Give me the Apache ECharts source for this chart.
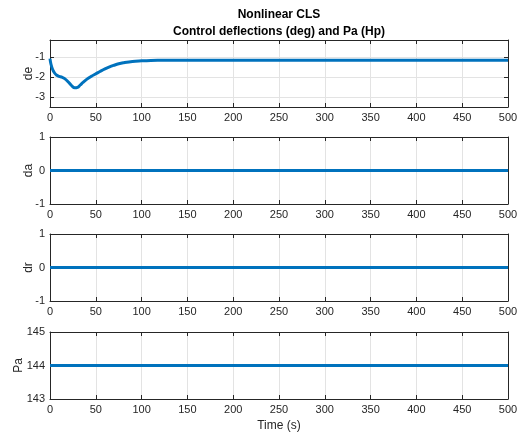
<!DOCTYPE html>
<html><head><meta charset="utf-8">
<script src="https://cdn.jsdelivr.net/npm/echarts@6/dist/echarts.min.js"></script>
<style>html,body{margin:0;padding:0;background:#fff}#c{width:523px;height:434px}</style>
</head><body><div id="c"></div>
<script>
// ---- data ----
const titleLines = ['Nonlinear CLS', 'Control deflections (deg) and Pa (Hp)'];
const xLabel = 'Time (s)';
const panelNames = ['de', 'da', 'dr', 'Pa'];
const deTime = [0,1,3,5,7,10,13,16,20,24,27,30,33,36,40,45,50,55,60,65,70,75,80,90,100,110,120,150,200,300,400,500];
const deValues = [-1.08,-1.35,-1.64,-1.80,-1.90,-1.97,-2.01,-2.08,-2.25,-2.45,-2.54,-2.52,-2.40,-2.27,-2.12,-1.97,-1.84,-1.71,-1.59,-1.49,-1.41,-1.34,-1.29,-1.22,-1.19,-1.17,-1.165,-1.16,-1.16,-1.16,-1.16,-1.16];
const daTime = [0, 500];
const daValues = [0, 0];
const drTime = [0, 500];
const drValues = [0, 0];
const paTime = [0, 500];
const paValues = [144, 144];
const xTicks = [0,50,100,150,200,250,300,350,400,450,500];
const yLimits = [[-3.5, -0.15], [-1, 1], [-1, 1], [143, 145]];

// ---- layout ----
const tops = [40, 137, 234, 332];
const H = 67, L = 50, R = 15;
const lineColor = '#0072BD';
const axisColor = '#262626';
const gridColor = '#e3e3e3';
const font = 'Arial, "Liberation Sans", Helvetica, sans-serif';

const seriesData = [
  deTime.map((t, i) => [t, deValues[i]]),
  daTime.map((t, i) => [t, daValues[i]]),
  drTime.map((t, i) => [t, drValues[i]]),
  paTime.map((t, i) => [t, paValues[i]])
];

const grids = [], xAxes = [], yAxes = [], series = [];
for (let i = 0; i < 4; i++) {
  grids.push({left: L, right: R, top: tops[i], height: H, containLabel: false, outerBoundsMode: 'none'});
  const xb = {
    type: 'value', gridIndex: i, min: xTicks[0], max: xTicks[xTicks.length-1], interval: 50,
    position: 'bottom',
    axisLine: {show: true, onZero: false, lineStyle: {color: axisColor, width: 1}},
    axisTick: {show: true, inside: true, length: 4, lineStyle: {color: axisColor}},
    axisLabel: {show: true, color: axisColor, fontSize: 11, fontFamily: font, margin: 5},
    splitLine: {show: true, lineStyle: {color: gridColor, width: 1}}
  };
  if (i === 3) {
    xb.name = xLabel; xb.nameLocation = 'middle'; xb.nameGap = 21;
    xb.nameTextStyle = {color: axisColor, fontSize: 12, fontFamily: font};
  }
  xAxes.push(xb);
  xAxes.push({
    type: 'value', gridIndex: i, min: xTicks[0], max: xTicks[xTicks.length-1], interval: 50,
    position: 'top',
    axisLine: {show: true, onZero: false, lineStyle: {color: axisColor, width: 1}},
    axisTick: {show: true, inside: true, length: 4, lineStyle: {color: axisColor}},
    axisLabel: {show: false}, splitLine: {show: false}
  });
  const lim = yLimits[i];
  const common = {type: 'value', gridIndex: i, min: lim[0], max: lim[1]};
  if (i === 0) { common.minInterval = 1; common.maxInterval = 1; common.splitNumber = 3; }
  else { common.interval = 1; }
  yAxes.push(Object.assign({}, common, {
    position: 'left',
    name: panelNames[i], nameLocation: 'middle', nameGap: i === 3 ? 25 : 15,
    nameMoveOverlap: false,
    nameTextStyle: {color: axisColor, fontSize: 12, fontFamily: font},
    axisLine: {show: true, onZero: false, lineStyle: {color: axisColor, width: 1}},
    axisTick: {show: true, inside: true, length: 4, lineStyle: {color: axisColor}},
    axisLabel: {show: true, color: axisColor, fontSize: 11, fontFamily: font, margin: 5,
      showMinLabel: i !== 0, showMaxLabel: i !== 0},
    splitLine: {show: true, lineStyle: {color: gridColor, width: 1}}
  }));
  yAxes.push(Object.assign({}, common, {
    position: 'right',
    axisLine: {show: true, onZero: false, lineStyle: {color: axisColor, width: 1}},
    axisTick: {show: true, inside: true, length: 4, lineStyle: {color: axisColor}},
    axisLabel: {show: false}, splitLine: {show: false}
  }));
  series.push({
    type: 'line', xAxisIndex: 2*i, yAxisIndex: 2*i, data: seriesData[i],
    showSymbol: false, smooth: i === 0 ? 0.4 : false, animation: false,
    lineStyle: {color: lineColor, width: 3}
  });
}

const chart = echarts.init(document.getElementById('c'), null, {renderer: 'canvas'});
chart.setOption({
  animation: false,
  backgroundColor: '#fff',
  graphic: [
    {type: 'text', x: 279, y: 15, style: {text: titleLines[0], align: 'center', verticalAlign: 'middle',
      font: 'bold 12px ' + font, fill: '#000'}},
    {type: 'text', x: 279, y: 32, style: {text: titleLines[1], align: 'center', verticalAlign: 'middle',
      font: 'bold 12px ' + font, fill: '#000'}}
  ],
  grid: grids, xAxis: xAxes, yAxis: yAxes, series: series
});
</script></body></html>
